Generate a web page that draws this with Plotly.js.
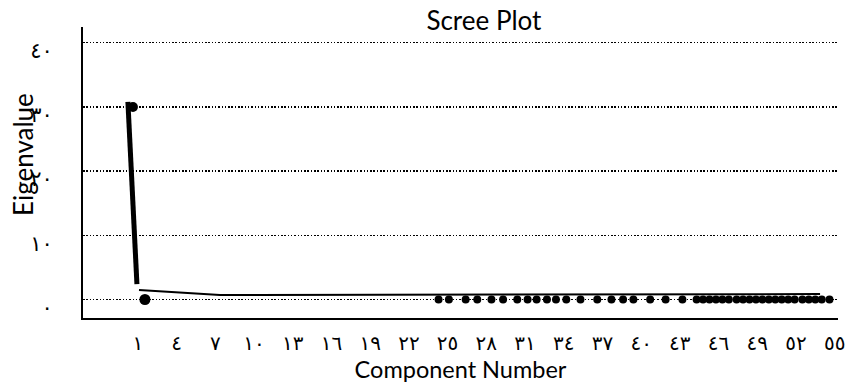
<!DOCTYPE html>
<html><head><meta charset="utf-8">
<script src="https://cdn.plot.ly/plotly-3.0.1.min.js"></script>
<style>html,body{margin:0;padding:0;background:#fff}</style>
</head><body>
<div id="chart" style="width:853px;height:383px"></div>
<script>
// Steep (thick) segment of the scree line
const steepX = [0.22, 0.92];
const steepY = [30.8, 2.4];
// Thin tail of the scree line
const tailX = [1.08, 7.36, 53.87];
const tailY = [1.5, 0.7, 0.85];
// Large eigenvalue marker
const peakX = [0.61];
const peakY = [30];
// First low marker
const firstX = [1.54];
const firstY = [0];
// Remaining eigenvalue markers near zero
const dotX = [24.3, 25.1, 26.4, 27.3, 28.4, 29.3, 30.4, 31.2, 31.9, 32.7, 33.4, 34.2, 35.3, 36.6,
  37.7, 38.6, 39.4, 40.7, 41.9, 43.2, 44.3, 44.8, 45.3, 45.8, 46.3, 46.8, 47.4, 47.9, 48.4, 48.9,
  49.4, 49.9, 50.4, 50.9, 51.4, 51.9, 52.5, 53.0, 53.5, 54.0, 54.6, 55.3, 56.0, 56.4];
const dotY = [0, 0, 0, 0, 0, 0, 0, 0, 0, 0, 0, 0, 0, 0,
  0, 0, 0, 0, 0, 0, 0, 0, 0, 0, 0, 0, 0, 0, 0, 0,
  0, 0, 0, 0, 0, 0, 0, 0, 0, 0, 0, 0, 0, 0];
// Axis ticks
const xTickVals = [1, 4, 7, 10, 13, 16, 19, 22, 25, 28, 31, 34, 37, 40, 43, 46, 49, 52, 55];
const xTickText = ['١', '٤', '٧', '١٠', '١٣', '١٦', '١٩', '٢٢', '٢٥', '٢٨', '٣١', '٣٤', '٣٧', '٤٠', '٤٣', '٤٦', '٤٩', '٥٢', '٥٥'];
const yTickVals = [0, 10, 20, 30, 40];
const yTickText = ['٠', '١٠', '٢٠', '٣٠', '٤٠'];

const txtFont = 'Lato, "Open Sans", "DejaVu Sans", sans-serif';
const tickFont = '"DejaVu Sans", sans-serif';

const traces = [
  {x: steepX, y: steepY, type: 'scatter', mode: 'lines', line: {color: '#000', width: 5}, hoverinfo: 'skip', showlegend: false},
  {x: tailX, y: tailY, type: 'scatter', mode: 'lines', line: {color: '#000', width: 2}, hoverinfo: 'skip', showlegend: false},
  {x: peakX, y: peakY, type: 'scatter', mode: 'markers', marker: {color: '#000', size: 10}, cliponaxis: false, showlegend: false},
  {x: firstX, y: firstY, type: 'scatter', mode: 'markers', marker: {color: '#000', size: 11}, cliponaxis: false, showlegend: false},
  {x: dotX, y: dotY, type: 'scatter', mode: 'markers', marker: {color: '#000', size: 8}, cliponaxis: false, showlegend: false}
];

const layout = {
  width: 853, height: 383,
  margin: {l: 83, r: 15, t: 27, b: 65, pad: 0},
  paper_bgcolor: '#fff', plot_bgcolor: '#fff',
  showlegend: false,
  title: {text: 'Scree Plot', font: {family: txtFont, size: 26, color: '#000'},
          x: 0.531, xref: 'paper', xanchor: 'center', y: 0.945, yref: 'container', yanchor: 'middle'},
  xaxis: {
    range: [-3.26, 55.26], tickmode: 'array', tickvals: xTickVals, ticktext: xTickText,
    showgrid: false, zeroline: false, showline: true, linecolor: '#000', linewidth: 2,
    ticks: '', ticklabelstandoff: 6,
    tickfont: {family: tickFont, size: 20, color: '#000'},
    title: {text: 'Component Number', font: {family: txtFont, size: 23.5, color: '#000'}, standoff: 2}
  },
  yaxis: {
    range: [-2.88, 42.45], tickmode: 'array', tickvals: yTickVals, ticktext: yTickText,
    showgrid: true, gridcolor: '#000', gridwidth: 1.5, griddash: '1.5px,1.8px',
    zeroline: false, showline: true, linecolor: '#000', linewidth: 2,
    ticks: '', ticklabelstandoff: 24, ticklabelshift: 8,
    tickfont: {family: tickFont, size: 21, color: '#000'}
  },
  annotations: [{
    text: 'Eigenvalue', textangle: -90, showarrow: false,
    xref: 'paper', x: 0, xanchor: 'center', xshift: -60,
    yref: 'paper', y: 0.56, yanchor: 'middle',
    font: {family: txtFont, size: 26, color: '#000'}
  }]
};

Plotly.newPlot('chart', traces, layout, {displayModeBar: false, staticPlot: true});
</script>
</body></html>
